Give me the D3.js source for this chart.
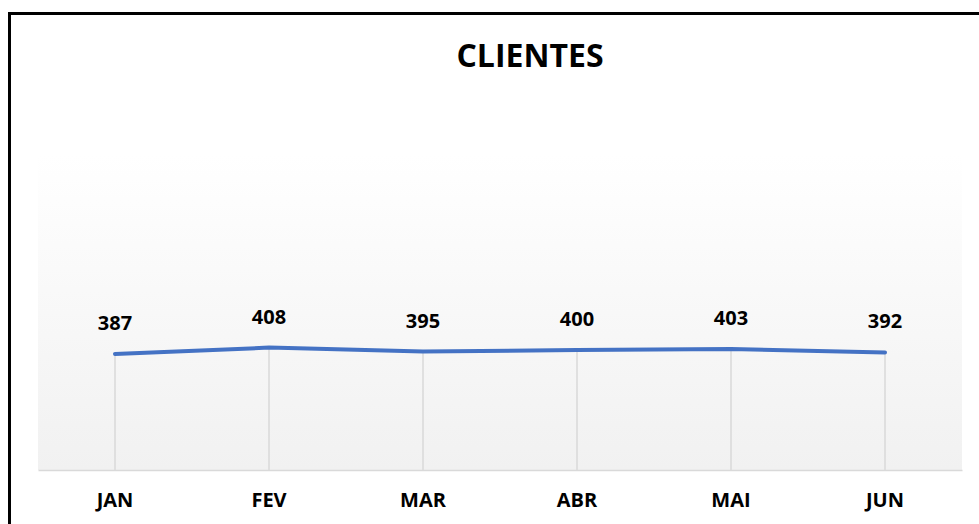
<!DOCTYPE html>
<html>
<head>
<meta charset="utf-8">
<script src="https://cdn.jsdelivr.net/npm/d3@7"></script>
<style>
  html, body { margin: 0; padding: 0; background: #ffffff; }
  svg { display: block; font-family: "Open Sans", "Noto Sans", sans-serif; }
</style>
</head>
<body>
<svg id="chart" width="979" height="524"></svg>
<script>
const categories = ["JAN", "FEV", "MAR", "ABR", "MAI", "JUN"];
const clientes = [387, 408, 395, 400, 403, 392];
const title = "CLIENTES";

const svg = d3.select("#chart");
const W = 979, H = 524;
const plot = { left: 38, right: 962, top: 155, bottom: 470 };

// outer chart border
svg.append("rect").attr("x", 9.5).attr("y", 13.5)
  .attr("width", W + 10).attr("height", H + 10)
  .attr("fill", "#ffffff").attr("stroke", "#000000").attr("stroke-width", 3);

// plot area gradient
const defs = svg.append("defs");
const grad = defs.append("linearGradient").attr("id", "bg")
  .attr("x1", 0).attr("y1", 0).attr("x2", 0).attr("y2", 1);
grad.append("stop").attr("offset", "0%").attr("stop-color", "#ffffff");
grad.append("stop").attr("offset", "100%").attr("stop-color", "#f1f1f1");
svg.append("rect").attr("x", plot.left).attr("y", plot.top)
  .attr("width", plot.right - plot.left).attr("height", plot.bottom - plot.top)
  .attr("fill", "url(#bg)");

const x = d3.scaleBand().domain(categories).range([plot.left, plot.right]);
const y = d3.scaleLinear().domain([0, 1050]).range([plot.bottom, plot.top]);
const cx = d => x(d) + x.bandwidth() / 2;

// title
svg.append("text").attr("x", (plot.left + plot.right) / 2 + 30).attr("y", 67)
  .attr("text-anchor", "middle").attr("font-weight", 700).attr("font-size", 32)
  .attr("fill", "#000").text(title);

// drop lines
svg.append("g").selectAll("line").data(categories).join("line")
  .attr("x1", d => cx(d)).attr("x2", d => cx(d))
  .attr("y1", (d, i) => y(clientes[i])).attr("y2", plot.bottom)
  .attr("stroke", "#d9d9d9").attr("stroke-width", 1.5);

// x axis
const xAxis = svg.append("g").attr("transform", `translate(0,${plot.bottom})`)
  .call(d3.axisBottom(x).tickSize(0).tickPadding(23));
xAxis.select(".domain").attr("stroke", "#d9d9d9").attr("stroke-width", 1.5);
xAxis.selectAll("text").attr("font-family", "'Open Sans', sans-serif")
  .attr("font-size", 20).attr("font-weight", 700).attr("fill", "#000");

// line
const line = d3.line().x((d, i) => cx(categories[i])).y(d => y(d));
svg.append("path").datum(clientes).attr("d", line)
  .attr("fill", "none").attr("stroke", "#4472c4").attr("stroke-width", 4)
  .attr("stroke-linecap", "round").attr("stroke-linejoin", "round");

// data labels
svg.append("g").selectAll("text").data(clientes).join("text")
  .attr("x", (d, i) => cx(categories[i]))
  .attr("y", d => y(d) - 24)
  .attr("text-anchor", "middle").attr("font-size", 20).attr("font-weight", 700)
  .attr("fill", "#000").text(d => d);
</script>
</body>
</html>
